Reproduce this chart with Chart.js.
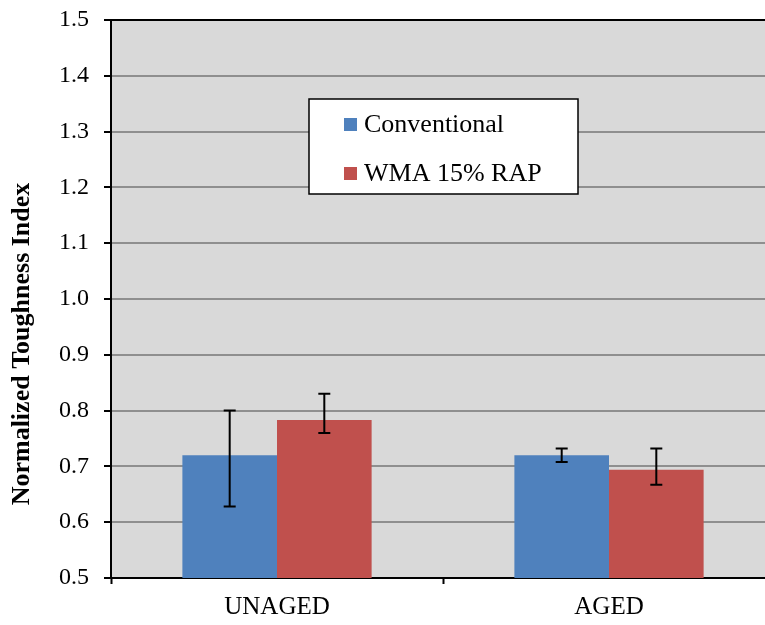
<!DOCTYPE html>
<html>
<head>
<meta charset="utf-8">
<script src="https://cdn.jsdelivr.net/npm/chart.js@4"></script>
<style>
  html, body { margin: 0; padding: 0; background: #fff; overflow: hidden; }
  #wrap { width: 776px; height: 625px; }
</style>
</head>
<body>
<div id="wrap"><canvas id="chart" width="776" height="625"></canvas></div>
<script>
const categories = ['UNAGED', 'AGED'];

const conventional = [0.720, 0.720];
const conventionalLow = [0.628, 0.708];
const conventionalHigh = [0.800, 0.732];

const wma = [0.783, 0.694];
const wmaLow = [0.760, 0.667];
const wmaHigh = [0.830, 0.732];

const yTitle = 'Normalized Toughness Index';

const serif = "'Liberation Serif', 'Times New Roman', serif";

// gray plot background
const plotBackground = {
  id: 'plotBackground',
  beforeDraw(chart) {
    const {ctx, chartArea: a} = chart;
    ctx.save();
    ctx.fillStyle = '#d9d9d9';
    ctx.fillRect(a.left, a.top, a.right - a.left, a.bottom - a.top);
    ctx.restore();
  }
};

// error bars, drawn through the y scale
const errorBars = {
  id: 'errorBars',
  afterDatasetsDraw(chart) {
    const {ctx} = chart;
    const y = chart.scales.y;
    const ranges = [[conventionalLow, conventionalHigh], [wmaLow, wmaHigh]];
    ctx.save();
    ctx.strokeStyle = '#000';
    ctx.lineWidth = 2;
    chart.data.datasets.forEach((ds, i) => {
      const meta = chart.getDatasetMeta(i);
      meta.data.forEach((bar, j) => {
        const lo = y.getPixelForValue(ranges[i][0][j]);
        const hi = y.getPixelForValue(ranges[i][1][j]);
        ctx.beginPath();
        ctx.moveTo(bar.x, lo);
        ctx.lineTo(bar.x, hi);
        ctx.moveTo(bar.x - 6, lo);
        ctx.lineTo(bar.x + 6, lo);
        ctx.moveTo(bar.x - 6, hi);
        ctx.lineTo(bar.x + 6, hi);
        ctx.stroke();
      });
    });
    ctx.restore();
  }
};

// boxed legend inside the plot, plus the y title (sits a bit below centre in the original)
const boxLegend = {
  id: 'boxLegend',
  afterDraw(chart) {
    const {ctx, chartArea: a} = chart;
    const x = a.left + 198, y = a.top + 79, w = 269, h = 95;
    ctx.save();
    ctx.fillStyle = '#fff';
    ctx.fillRect(x, y, w, h);
    ctx.strokeStyle = '#000';
    ctx.lineWidth = 1.5;
    ctx.strokeRect(x, y, w, h);
    ctx.font = '26px ' + serif;
    ctx.textBaseline = 'alphabetic';
    chart.data.datasets.forEach((ds, i) => {
      const rowY = y + 25 + i * 49;
      ctx.fillStyle = ds.backgroundColor;
      ctx.fillRect(x + 35, rowY - 6, 13, 13);
      ctx.fillStyle = '#000';
      ctx.fillText(ds.label, x + 55, rowY + 8);
    });

    ctx.translate(22, 344);
    ctx.rotate(-Math.PI / 2);
    ctx.font = 'bold 26px ' + serif;
    ctx.textAlign = 'center';
    ctx.textBaseline = 'middle';
    ctx.fillStyle = '#000';
    ctx.fillText(yTitle, 0, 0);
    ctx.restore();
  }
};

new Chart(document.getElementById('chart'), {
  type: 'bar',
  data: {
    labels: categories,
    datasets: [
      {
        label: 'Conventional',
        data: conventional,
        backgroundColor: '#4f81bd',
        categoryPercentage: 0.57,
        barPercentage: 1.0
      },
      {
        label: 'WMA 15% RAP',
        data: wma,
        backgroundColor: '#c0504d',
        categoryPercentage: 0.57,
        barPercentage: 1.0
      }
    ]
  },
  options: {
    responsive: false,
    animation: false,
    layout: { padding: { top: 20, right: 1, left: 0, bottom: 0 } },
    plugins: {
      legend: { display: false },
      tooltip: { enabled: false }
    },
    scales: {
      x: {
        afterFit(s) { s.height = 47; s.paddingLeft = 0; s.paddingRight = 0; },
        border: { color: '#000', width: 2 },
        grid: { drawOnChartArea: false, drawTicks: true, tickLength: 6, tickColor: '#000', tickWidth: 2 },
        ticks: { color: '#000', padding: 8, font: { family: serif, size: 25 } }
      },
      y: {
        min: 0.5,
        max: 1.5,
        afterFit(s) { s.width = 111; s.paddingTop = 0; s.paddingBottom = 0; },
        border: { color: '#000', width: 2 },
        grid: {
          color: ctx => ctx.tick && ctx.tick.value === 1.5 ? '#000' : '#8f8f8f',
          lineWidth: 2,
          tickLength: 7,
          tickColor: '#000',
          tickWidth: 2
        },
        ticks: {
          stepSize: 0.1,
          color: '#000',
          padding: 15,
          font: { family: serif, size: 24 },
          callback: v => Number(v).toFixed(1)
        }
      }
    }
  },
  plugins: [plotBackground, errorBars, boxLegend]
});
</script>
</body>
</html>
